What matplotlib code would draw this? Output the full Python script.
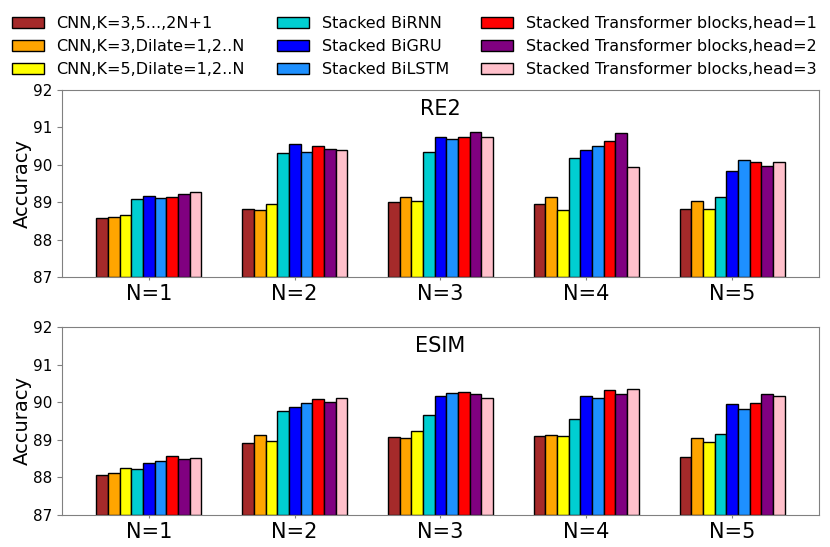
import numpy as np
import matplotlib
matplotlib.use("Agg")
import matplotlib.pyplot as plt

# group labels and model names
groups = ["N=1", "N=2", "N=3", "N=4", "N=5"]
models = [
    "CNN,K=3,5...,2N+1",
    "CNN,K=3,Dilate=1,2..N",
    "CNN,K=5,Dilate=1,2..N",
    "Stacked BiRNN",
    "Stacked BiGRU",
    "Stacked BiLSTM",
    "Stacked Transformer blocks,head=1",
    "Stacked Transformer blocks,head=2",
    "Stacked Transformer blocks,head=3",
]
colors = ["brown", "orange", "yellow", "darkturquoise", "blue",
          "dodgerblue", "red", "purple", "pink"]

# accuracy per model (rows) for N=1..5 (columns)
re2 = [
    [88.59, 88.81, 89.00, 88.95, 88.83],
    [88.61, 88.79, 89.15, 89.14, 89.03],
    [88.65, 88.95, 89.04, 88.79, 88.83],
    [89.09, 90.31, 90.35, 90.18, 89.13],
    [89.16, 90.56, 90.75, 90.39, 89.84],
    [89.11, 90.34, 90.68, 90.51, 90.12],
    [89.14, 90.51, 90.75, 90.64, 90.08],
    [89.21, 90.43, 90.87, 90.84, 89.98],
    [89.27, 90.39, 90.75, 89.95, 90.08],
]
esim = [
    [88.07, 88.91, 89.08, 89.11, 88.55],
    [88.11, 89.12, 89.06, 89.14, 89.05],
    [88.26, 88.96, 89.23, 89.09, 88.94],
    [88.22, 89.77, 89.65, 89.56, 89.15],
    [88.37, 89.86, 90.17, 90.16, 89.94],
    [88.43, 89.98, 90.24, 90.12, 89.83],
    [88.57, 90.09, 90.27, 90.32, 89.99],
    [88.48, 90.01, 90.22, 90.23, 90.21],
    [88.51, 90.11, 90.12, 90.35, 90.17],
]

fig = plt.figure(figsize=(8.3, 5.47), dpi=100)
ax1 = fig.add_axes([0.0747, 0.4936, 0.912, 0.3419])
ax2 = fig.add_axes([0.0747, 0.0585, 0.912, 0.3437])

x = np.arange(len(groups))
w = 0.08

for ax, data, name in [(ax1, re2, "RE2"), (ax2, esim, "ESIM")]:
    for i, (vals, c) in enumerate(zip(data, colors)):
        ax.bar(x + (i - 4) * w, np.array(vals) - 87, w, bottom=87,
               color=c, edgecolor="black", linewidth=1, label=models[i])
    ax.set_ylim(87, 92)
    ax.set_yticks([87, 88, 89, 90, 91, 92])
    ax.set_xticks(x)
    ax.set_xticklabels(groups, fontsize=15)
    ax.tick_params(axis="y", labelsize=11, color="gray")
    ax.tick_params(axis="x", color="gray", length=2.5, pad=2.5)
    ax.set_ylabel("Accuracy", fontsize=14, labelpad=1)
    for s in ax.spines.values():
        s.set_edgecolor("gray")
    ax.text(0.5, 0.9, name, transform=ax.transAxes, ha="center",
            va="center", fontsize=15)

handles, labels = ax1.get_legend_handles_labels()
fig.legend(handles, labels, ncol=3, loc="upper left",
           bbox_to_anchor=(-0.003, 0.997), frameon=False, fontsize=11.5)

plt.savefig("out.png", dpi=100)
